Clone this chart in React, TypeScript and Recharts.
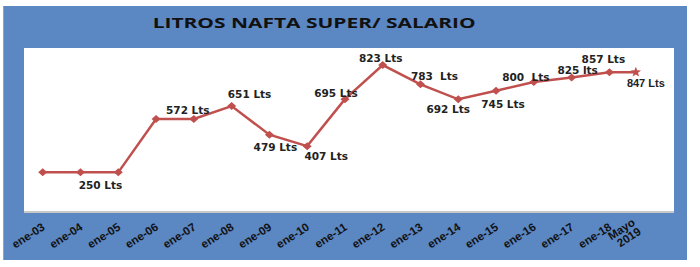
import React from 'react';
import { LineChart, Line, XAxis, YAxis } from 'recharts';

// Categories (x tick labels)
const CATEGORIES = ['ene-03', 'ene-04', 'ene-05', 'ene-06', 'ene-07', 'ene-08', 'ene-09', 'ene-10', 'ene-11', 'ene-12', 'ene-13', 'ene-14', 'ene-15', 'ene-16', 'ene-17', 'ene-18', 'Mayo 2019'];
// Horizontal position of each category (last one is closer)
const POSITIONS = [0, 1, 2, 3, 4, 5, 6, 7, 8, 9, 10, 11, 12, 13, 14, 15, 15.7];
// Plotted values
const VALUES = [250, 250, 250, 535, 535, 604, 451, 390, 641, 823, 720, 640, 686, 732, 757, 784, 785];
// Data label texts as written on the chart
const LABELS = ['', '250 Lts', '', '', '572 Lts', '651 Lts', '479 Lts', '407 Lts', '695 Lts', '823 Lts', '783  Lts', '692 Lts', '745 Lts', '800  Lts', '825 lts', '857 Lts', '847 Lts'];
const TITLE = 'LITROS NAFTA SUPER/ SALARIO';

// label placement styling (offsets from the marker)
const LABEL_OFFSETS: [number, number][] = [
  [0, 0], [20, 13], [0, 0], [0, 0], [-6, -9], [18, -12], [6, 12], [19, 10], [-9, -6],
  [-2, -7], [14, -8], [-10, 10], [7, 13], [-8, -5], [6, -7], [-6, -13], [10, 11],
];

const data = CATEGORIES.map((c, i) => ({ cat: c, pos: POSITIONS[i], value: VALUES[i] }));

const RED = '#C0504D';
const BLUE = '#5B87C2';

const Dot = (props: any) => {
  const { cx, cy, index } = props;
  if (cx == null || cy == null) return null;
  if (index === data.length - 1) {
    const pts: string[] = [];
    for (let k = 0; k < 10; k++) {
      const r = k % 2 === 0 ? 5.5 : 2.3;
      const a = -Math.PI / 2 + (k * Math.PI) / 5;
      pts.push(`${cx + r * Math.cos(a)},${cy + r * Math.sin(a)}`);
    }
    return <polygon key={`d${index}`} points={pts.join(' ')} fill={RED} />;
  }
  const w = 4.5, h = 4;
  return (
    <polygon
      key={`d${index}`}
      points={`${cx - w},${cy} ${cx},${cy - h} ${cx + w},${cy} ${cx},${cy + h}`}
      fill={RED}
    />
  );
};

const DataLabel = (props: any) => {
  const { x, y, index } = props;
  const text = LABELS[index];
  if (!text) return null;
  const [dx, dy] = LABEL_OFFSETS[index];
  const last = index === data.length - 1;
  return (
    <text
      x={x + dx}
      y={y + dy}
      textAnchor="middle"
      dominantBaseline="central"
      fontFamily={last ? 'Liberation Sans' : 'DejaVu Sans'}
      fontWeight="bold"
      fontSize={last ? 11 : 10.5}
      fill="#222"
      style={{ whiteSpace: 'pre' }}
    >
      {text}
    </text>
  );
};

const Tick = (props: any) => {
  const { x, index } = props;
  const label = CATEGORIES[index] ?? '';
  const parts = label.split(' ');
  const tx = x + 3;
  const ty = 229;
  return (
    <g transform={`translate(${tx},${ty}) rotate(-33)`}>
      <text
        textAnchor="end"
        fontFamily="Liberation Sans"
        fontWeight="bold"
        fontSize={11.5}
        fill="#111"
      >
        {parts.map((p: string, i: number) => (
          <tspan key={i} x={0} dy={i === 0 ? (parts.length > 1 ? -5.5 : 0) : 11}>
            {p}
          </tspan>
        ))}
      </text>
    </g>
  );
};

export default function App() {
  return (
    <div style={{ position: 'absolute', left: 0, top: 0, width: 700, height: 267, background: '#fff', overflow: 'hidden' }}>
      <div style={{ position: 'absolute', left: 3, top: 6, width: 684, height: 254, background: BLUE, borderLeft: '1px solid #9aa3ad', boxSizing: 'border-box' }} />
      <div style={{ position: 'absolute', left: 24, top: 48, width: 650, height: 165, background: '#fff', borderBottom: '2px solid #c8c8c8', boxSizing: 'border-box' }} />
      <svg style={{ position: 'absolute', left: 0, top: 0 }} width={700} height={267}>
        <text
          x={152.7}
          y={28.3}
          textLength={323}
          lengthAdjust="spacingAndGlyphs"
          fontFamily="Open Sans"
          fontWeight="bold"
          fontSize={14}
          fill="#111"
        >
          {TITLE}
        </text>
      </svg>
      <div style={{ position: 'absolute', left: 0, top: 0 }}>
        <LineChart width={700} height={267} data={data} margin={{ top: 48, left: 24, right: 26, bottom: 14 }}>
          <XAxis
            dataKey="pos"
            type="number"
            domain={[-0.495, 16.71]}
            ticks={POSITIONS}
            interval={0}
            axisLine={false}
            tickLine={false}
            height={40}
            tick={<Tick />}
          />
          <YAxis hide domain={[33, 914]} type="number" />
          <Line
            dataKey="value"
            stroke={RED}
            strokeWidth={2.5}
            dot={<Dot />}
            activeDot={false}
            isAnimationActive={false}
            label={<DataLabel />}
          />
        </LineChart>
      </div>
    </div>
  );
}
